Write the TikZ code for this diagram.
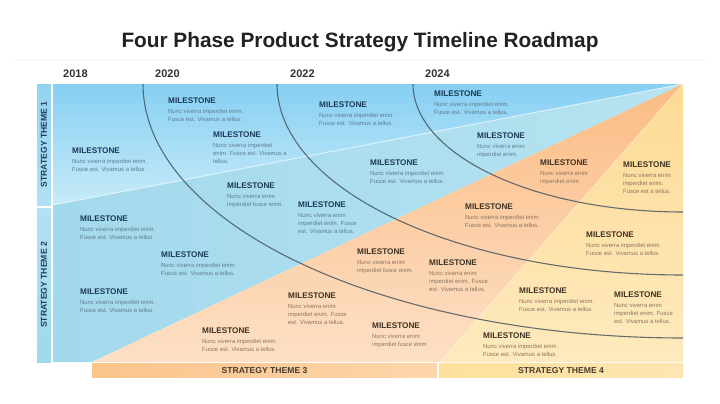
\documentclass[tikz,border=0pt]{standalone}
\usepackage{fontspec}
\setmainfont{Liberation Sans}
\definecolor{titlec}{HTML}{222222}
\definecolor{yearc}{HTML}{333333}
\definecolor{headb}{HTML}{1D3A57}
\definecolor{heado}{HTML}{3E3222}
\definecolor{descb}{HTML}{5F7D90}
\definecolor{desco}{HTML}{8A7560}
\definecolor{themeb}{HTML}{1F3E57}
\definecolor{themeo}{HTML}{4A3B2A}
\definecolor{arcc}{HTML}{3F4F5C}
\newcommand{\msheadb}{\fontsize{8.2}{9}\selectfont\bfseries\color{headb}}
\newcommand{\msheado}{\fontsize{8.2}{9}\selectfont\bfseries\color{heado}}
\tikzset{
  msbase/.style={anchor=north west, inner sep=0pt, align=left, font=\fontsize{5.9}{7.7}\selectfont},
  msb/.style={msbase, text=descb},
  mso/.style={msbase, text=desco},
  year/.style={anchor=west, inner sep=0pt, font=\fontsize{11}{12}\selectfont\bfseries, text=yearc},
  themel/.style={inner sep=0pt, font=\fontsize{8.6}{10}\selectfont\bfseries},
  arcline/.style={draw=arcc, line width=1.1pt, opacity=0.8},
}
\begin{document}
\begin{tikzpicture}[x=1pt,y=-1pt]
\useasboundingbox (0,0) rectangle (720,404);
\fill[white] (0,0) rectangle (720,404);

% title
\node[font=\fontsize{20.8}{24}\selectfont\bfseries, text=titlec, inner sep=0pt] (title) at (360,42) {Four Phase Product Strategy Timeline Roadmap};
\draw[black!4, line width=0.8pt] (15,60) -- (705,60);

% years
\node[year] (y2018) at (63,74) {2018};
\node[year] (y2020) at (155,74) {2020};
\node[year] (y2022) at (290,74) {2022};
\node[year] (y2024) at (425,74) {2024};

% regions
\shade[top color={rgb,255:red,134;green,207;blue,243}, bottom color={rgb,255:red,200;green,235;blue,249}]
  (53,84) -- (683,84) -- (53,205) -- cycle;
\shade[left color={rgb,255:red,162;green,217;blue,236}, right color={rgb,255:red,182;green,227;blue,240}]
  (53,205) -- (683,84) -- (92,362) -- (53,362) -- cycle;
\shade[top color={rgb,255:red,251;green,188;blue,132}, bottom color={rgb,255:red,253;green,224;blue,198}]
  (92,362) -- (683,84) -- (440,362) -- cycle;
\shade[top color={rgb,255:red,253;green,218;blue,148}, bottom color={rgb,255:red,254;green,234;blue,190}]
  (440,362) -- (683,84) -- (683,362) -- cycle;
\draw[white, opacity=0.55, line width=1pt] (53,205) -- (683,84);
\draw[white, opacity=0.35, line width=0.8pt] (440,362) -- (683,84);

% arcs
\draw[arcline] plot[domain=0:90, samples=90, variable=\t] ({683-270*cos(\t)}, {84+128*sin(\t)});
\draw[arcline] plot[domain=0:90, samples=90, variable=\t] ({683-406*cos(\t)}, {84+191*sin(\t)});
\draw[arcline] plot[domain=0:90, samples=90, variable=\t] ({683-540*cos(\t)}, {84+254*sin(\t)});

% left theme bars
\shade[top color={rgb,255:red,145;green,211;blue,242}, bottom color={rgb,255:red,176;green,224;blue,245}] (37,84) rectangle (51,205);
\shade[top color={rgb,255:red,178;green,225;blue,244}, bottom color={rgb,255:red,160;green,216;blue,238}] (37,208) rectangle (51,362);
\node[themel, text=themeb, rotate=90] (t1) at (44,144.5) {STRATEGY THEME 1};
\node[themel, text=themeb, rotate=90] (t2) at (44,285) {STRATEGY THEME 2};

% bottom theme bars
\shade[left color={rgb,255:red,251;green,196;blue,140}, right color={rgb,255:red,252;green,214;blue,170}] (92,363.5) rectangle (437,377);
\shade[left color={rgb,255:red,253;green,224;blue,156}, right color={rgb,255:red,253;green,230;blue,178}] (439,363.5) rectangle (683,377);
\node[themel, text=themeo] (t3) at (264.5,370.5) {STRATEGY THEME 3};
\node[themel, text=themeo] (t4) at (561,370.5) {STRATEGY THEME 4};

% milestones (blue)
\node[msb] (m1) at (72,148) {{\msheadb MILESTONE}\\[2.3pt]Nunc viverra imperdiet enim.\\Fusce est. Vivamus a tellus.};
\node[msb] (m2) at (168,98) {{\msheadb MILESTONE}\\[2.3pt]Nunc viverra imperdiet enim.\\Fusce est. Vivamus a tellus.};
\node[msb] (m3) at (213,132) {{\msheadb MILESTONE}\\[2.3pt]Nunc viverra imperdiet\\enim. Fusce est. Vivamus a\\tellus.};
\node[msb] (m4) at (227,183) {{\msheadb MILESTONE}\\[2.3pt]Nunc viverra enim\\imperdiet fusce enim.};
\node[msb] (m5) at (298,202) {{\msheadb MILESTONE}\\[2.3pt]Nunc viverra enim\\imperdiet enim. Fusce\\est. Vivamus a tellus.};
\node[msb] (m6) at (319,102) {{\msheadb MILESTONE}\\[2.3pt]Nunc viverra imperdiet enim.\\Fusce est. Vivamus a tellus.};
\node[msb] (m7) at (434,91) {{\msheadb MILESTONE}\\[2.3pt]Nunc viverra imperdiet enim.\\Fusce est. Vivamus a tellus.};
\node[msb] (m8) at (477,133) {{\msheadb MILESTONE}\\[2.3pt]Nunc viverra enim\\imperdiet enim.};
\node[msb] (m9) at (370,160) {{\msheadb MILESTONE}\\[2.3pt]Nunc viverra imperdiet enim.\\Fusce est. Vivamus a tellus.};
\node[msb] (m13) at (80,216) {{\msheadb MILESTONE}\\[2.3pt]Nunc viverra imperdiet enim.\\Fusce est. Vivamus a tellus.};
\node[msb] (m14) at (161,252) {{\msheadb MILESTONE}\\[2.3pt]Nunc viverra imperdiet enim.\\Fusce est. Vivamus a tellus.};
\node[msb] (m15) at (80,289) {{\msheadb MILESTONE}\\[2.3pt]Nunc viverra imperdiet enim.\\Fusce est. Vivamus a tellus.};

% milestones (orange / yellow)
\node[mso] (m10) at (540,160) {{\msheado MILESTONE}\\[2.3pt]Nunc viverra enim\\imperdiet enim.};
\node[mso] (m11) at (623,162) {{\msheado MILESTONE}\\[2.3pt]Nunc viverra enim\\imperdiet enim.\\Fusce est a tellus.};
\node[mso] (m12) at (465,204) {{\msheado MILESTONE}\\[2.3pt]Nunc viverra imperdiet enim.\\Fusce est. Vivamus a tellus.};
\node[mso] (m16) at (202,328) {{\msheado MILESTONE}\\[2.3pt]Nunc viverra imperdiet enim.\\Fusce est. Vivamus a tellus.};
\node[mso] (m17) at (288,293) {{\msheado MILESTONE}\\[2.3pt]Nunc viverra enim\\imperdiet enim. Fusce\\est. Vivamus a tellus.};
\node[mso] (m18) at (586,232) {{\msheado MILESTONE}\\[2.3pt]Nunc viverra imperdiet enim.\\Fusce est. Vivamus a tellus.};
\node[mso] (m19) at (357,249) {{\msheado MILESTONE}\\[2.3pt]Nunc viverra enim\\imperdiet fusce enim.};
\node[mso] (m20) at (429,260) {{\msheado MILESTONE}\\[2.3pt]Nunc viverra enim\\imperdiet enim. Fusce\\est. Vivamus a tellus.};
\node[mso] (m21) at (519,288) {{\msheado MILESTONE}\\[2.3pt]Nunc viverra imperdiet enim.\\Fusce est. Vivamus a tellus.};
\node[mso] (m22) at (614,292) {{\msheado MILESTONE}\\[2.3pt]Nunc viverra enim\\imperdiet enim. Fusce\\est. Vivamus a tellus.};
\node[mso] (m23) at (372,323) {{\msheado MILESTONE}\\[2.3pt]Nunc viverra enim\\imperdiet fusce enim.};
\node[mso] (m24) at (483,333) {{\msheado MILESTONE}\\[2.3pt]Nunc viverra imperdiet enim.\\Fusce est. Vivamus a tellus.};
\end{tikzpicture}
\end{document}
